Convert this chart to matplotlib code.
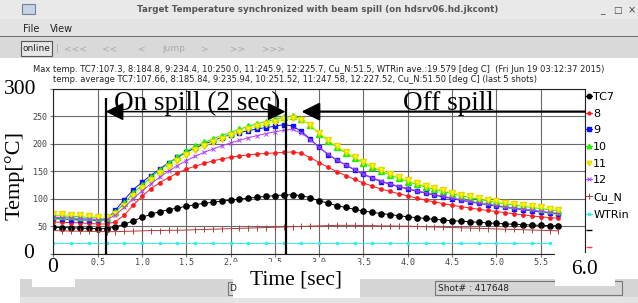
import numpy as np
import matplotlib.pyplot as plt
from matplotlib.patches import Rectangle
from matplotlib.lines import Line2D

# time of each sample [sec]
t = [0.0, 0.1, 0.2, 0.3, 0.4, 0.5, 0.6, 0.7, 0.8, 0.9,
     1.0, 1.1, 1.2, 1.3, 1.4, 1.5, 1.6, 1.7, 1.8, 1.9,
     2.0, 2.1, 2.2, 2.3, 2.4, 2.5, 2.6, 2.7, 2.8, 2.9,
     3.0, 3.1, 3.2, 3.3, 3.4, 3.5, 3.6, 3.7, 3.8, 3.9,
     4.0, 4.1, 4.2, 4.3, 4.4, 4.5, 4.6, 4.7, 4.8, 4.9,
     5.0, 5.1, 5.2, 5.3, 5.4, 5.5, 5.6, 5.7]

tc7 = [48.0, 47.5, 47.0, 46.5, 46.0, 45.5, 45.5, 48.5, 53.5, 59.5,
       66.0, 71.5, 76.5, 80.0, 83.0, 86.0, 89.0, 91.5, 93.5, 95.5,
       97.0, 99.0, 101.0, 102.5, 104.0, 105.5, 106.5, 107.3, 105.5, 101.5,
       96.0, 92.0, 87.0, 84.0, 80.5, 77.5, 75.0, 73.0, 71.0, 69.0,
       67.0, 65.5, 64.0, 62.5, 61.0, 60.0, 59.0, 58.0, 57.0, 56.0,
       55.0, 54.2, 53.5, 52.8, 52.0, 51.5, 51.0, 50.5]
tc8 = [57.5, 57.0, 56.5, 56.0, 55.0, 54.0, 54.0, 58.0, 70.0, 88.0,
       104.0, 118.0, 129.0, 138.0, 146.5, 153.5, 159.0, 164.0, 168.5, 172.0,
       175.0, 177.5, 179.5, 181.0, 182.0, 183.0, 184.0, 184.8, 182.0, 174.5,
       165.5, 157.0, 149.0, 142.0, 135.0, 128.5, 122.5, 117.5, 113.0, 109.0,
       105.0, 101.0, 97.5, 94.0, 91.0, 88.0, 85.5, 83.0, 80.5, 78.5,
       76.5, 74.5, 72.5, 70.5, 68.5, 67.0, 65.5, 64.5]
tc9 = [64.0, 63.0, 62.0, 61.5, 61.0, 60.5, 62.0, 79.0, 98.0, 116.0,
       130.0, 142.0, 154.0, 165.0, 175.0, 184.0, 192.0, 199.0, 205.0, 211.0,
       216.0, 220.0, 223.5, 226.5, 229.0, 231.5, 234.4, 232.0, 222.0, 208.0,
       193.0, 180.0, 170.0, 161.0, 152.0, 144.0, 137.0, 131.0, 126.0, 121.5,
       117.5, 113.5, 110.0, 106.5, 103.0, 100.0, 97.0, 94.0, 91.5, 89.0,
       86.5, 84.0, 82.0, 80.0, 78.0, 76.0, 74.0, 72.0]
tc10 = [69.0, 68.5, 68.0, 67.0, 66.0, 65.0, 64.0, 75.0, 92.0, 110.0,
        124.0, 139.0, 152.0, 164.0, 176.0, 186.0, 195.0, 202.0, 208.5, 214.5,
        220.0, 226.0, 231.5, 236.0, 240.0, 244.0, 247.5, 250.0, 245.0, 233.0,
        218.0, 205.0, 193.0, 183.0, 174.0, 165.0, 157.0, 150.0, 143.0, 137.0,
        131.0, 126.0, 121.0, 117.0, 113.0, 109.0, 105.5, 102.0, 99.0, 96.0,
        93.0, 90.5, 88.0, 86.0, 84.0, 82.0, 80.0, 78.0]
tc11 = [72.0, 71.5, 70.5, 69.5, 68.5, 67.5, 66.0, 72.0, 87.0, 104.0,
        119.0, 133.0, 146.0, 158.0, 169.0, 179.0, 188.0, 196.0, 203.0, 209.0,
        215.0, 221.0, 226.5, 231.5, 236.0, 240.0, 244.0, 245.9, 243.0, 234.0,
        220.0, 207.0, 195.0, 185.0, 176.0, 167.0, 159.0, 152.0, 145.0, 139.0,
        133.0, 128.0, 123.0, 119.0, 115.0, 111.0, 107.5, 104.0, 101.0, 98.0,
        95.0, 92.5, 90.0, 88.0, 86.0, 84.0, 82.0, 80.0]
tc12 = [66.0, 65.5, 65.0, 64.0, 63.0, 62.0, 62.0, 70.0, 84.0, 100.0,
        114.0, 127.0, 139.0, 150.0, 160.0, 169.0, 177.0, 184.0, 190.0, 196.0,
        201.0, 206.0, 210.5, 214.5, 218.0, 221.5, 224.0, 225.7, 219.0, 207.0,
        193.0, 181.0, 170.5, 161.5, 153.0, 145.0, 138.0, 132.0, 127.0, 122.5,
        118.5, 114.5, 111.0, 107.5, 104.5, 101.0, 98.0, 95.0, 92.5, 90.0,
        87.5, 85.0, 83.0, 81.0, 79.0, 77.0, 75.0, 73.0]
cu_n = [42.0, 41.5, 41.0, 41.0, 40.5, 40.5, 40.0, 40.0, 40.5, 41.0,
        41.5, 42.0, 42.0, 42.5, 42.5, 43.0, 43.5, 44.0, 44.5, 45.0,
        45.5, 46.0, 46.5, 47.0, 47.5, 48.0, 48.5, 49.0, 49.5, 50.0,
        50.5, 51.0, 51.5, 51.5, 51.5, 51.0, 51.0, 50.5, 50.5, 50.0,
        50.0, 49.5, 49.0, 48.5, 48.0, 47.5, 47.0, 46.5, 46.0, 45.5,
        45.0, 44.5, 44.0, 43.5, 43.0, 42.5, 42.0, 41.5]

# water temperature is logged every 0.2 sec
t_wtr = [0.0, 0.2, 0.4, 0.6, 0.8, 1.0, 1.2, 1.4, 1.6, 1.8,
         2.0, 2.2, 2.4, 2.6, 2.8, 3.0, 3.2, 3.4, 3.6, 3.8,
         4.0, 4.2, 4.4, 4.6, 4.8, 5.0, 5.2, 5.4, 5.6]
wtrin = [19.6, 19.6, 19.6, 19.6, 19.6, 19.6, 19.6, 19.6, 19.6, 19.6,
         19.6, 19.6, 19.6, 19.6, 19.6, 19.6, 19.6, 19.6, 19.6, 19.6,
         19.6, 19.6, 19.6, 19.6, 19.6, 19.6, 19.6, 19.6, 19.6]

spill_on = 0.59
spill_off = 2.62

xticks = [0.0, 0.5, 1.0, 1.5, 2.0, 2.5, 3.0, 3.5, 4.0, 4.5, 5.0, 5.5, 6.0]
xticklabels = ['', '0.5', '1.0', '1.5', '2.0', '2.5', '3.0', '3.5', '4.0', '4.5', '5.0', '5.5', '']
yticks = [0, 50, 100, 150, 200, 250, 300]
yticklabels = ['', '50', '100', '150', '200', '250', '']

title = "Target Temperature synchronized with beam spill (on hdsrv06.hd.jkcont)"
line1 = ("Max temp. TC7:107.3, 8:184.8, 9:234.4, 10:250.0, 11:245.9, 12:225.7, "
         "Cu_N:51.5, WTRin ave.:19.579 [deg C]  (Fri Jun 19 03:12:37 2015)")
line2 = ("temp. average TC7:107.66, 8:185.84, 9:235.94, 10:251.52, 11:247.58, "
         "12:227.52, Cu_N:51.50 [deg C] (last 5 shots)")

W, H = 638, 303
fx = lambda x: x / W
fy = lambda y: 1 - y / H

fig = plt.figure(figsize=(6.38, 3.03), dpi=100)
fig.patch.set_facecolor('white')


def box(x0, y0, x1, y1, fc, ec='none', lw=0.8, z=1):
    fig.add_artist(Rectangle((fx(x0), fy(y1)), fx(x1) - fx(x0), fy(y0) - fy(y1),
                             transform=fig.transFigure, fc=fc, ec=ec, lw=lw, zorder=z))


# ---- window decoration
box(0, 0, W, 19, '#e9e9e9')
box(0, 19, W, 36, '#e3e3e3')
box(0, 36, W, 37, '#6e6e6e')
box(0, 37, W, 58, '#d9d9d9')
box(21, 41, 52, 56, '#e6e6e6', ec='#555555')
box(22, 4, 35, 14, '#c8d4e4', ec='#7080a0')
fig.text(fx(318), fy(10), title, ha='center', va='center', fontsize=6.3,
         fontweight='bold', color='#555555')
fig.text(fx(602), fy(11), '_', ha='center', va='center', fontsize=6.5, color='#444444')
fig.text(fx(617), fy(10), '□', ha='center', va='center', fontsize=6.5, color='#444444')
fig.text(fx(632), fy(10), '×', ha='center', va='center', fontsize=7, color='#444444')
fig.text(fx(23), fy(29), 'File', va='center', fontsize=7, color='#222222')
fig.text(fx(50), fy(29), 'View', va='center', fontsize=7, color='#222222')
fig.text(fx(36.5), fy(48.5), 'online', ha='center', va='center', fontsize=6.5, color='#222222')
for xc, s in [(57, '|'), (75, '<<<'), (110, '<<'), (142, '<'), (174, 'jump'),
              (205, '>'), (238, '>>'), (273, '>>>')]:
    fig.text(fx(xc), fy(48.5), s, ha='center', va='center', fontsize=6.5, color='#a8a8a8')
fig.text(fx(33), fy(70), line1, va='center', fontsize=6.0, color='#222222')
fig.text(fx(53), fy(80), line2, va='center', fontsize=6.0, color='#222222')

# status bar
box(20, 279, W, 297, '#d6d6d6')
box(20, 297, W, H, '#e4e4e4')
box(228, 282, 236, 295, '#d6d6d6', ec='#777777')
box(435, 281, 622, 295, '#d6d6d6', ec='#777777')
fig.text(fx(229), fy(288.5), 'D', va='center', fontsize=6.5, color='#222222')
fig.text(fx(438), fy(288.5), 'Shot# : 417648', va='center', fontsize=6.5, color='#222222')

# ---- the plot
ax = fig.add_axes([fx(53.4), fy(253.7), fx(585) - fx(53.4), fy(88.5) - fy(253.7)])
ax.set_xlim(0, 6.0)
ax.set_ylim(0, 300)
ax.set_xticks(xticks)
ax.set_xticklabels(xticklabels, family='DejaVu Sans Mono', fontsize=6, color='#444444')
ax.set_yticks(yticks)
ax.set_yticklabels(yticklabels, family='DejaVu Sans Mono', fontsize=6, color='#444444')
ax.tick_params(length=2.5, width=0.8, color='#777777', pad=1.5)
ax.tick_params(axis='x', pad=0.5)
ax.grid(True, color='#6a6a6a', lw=0.8)
ax.set_axisbelow(True)
for sp in ax.spines.values():
    sp.set_color('#222222')
    sp.set_linewidth(0.8)

lw = 0.7
l1, = ax.plot(t, tc7, '-o', color='black', lw=lw, ms=3.8, label='TC7')
l2, = ax.plot(t, tc8, '-o', color='#ff1a1a', lw=lw, ms=2.4, label='8')
l3, = ax.plot(t, tc9, '-s', color='#1010ff', lw=lw, ms=3.4, label='9')
l4, = ax.plot(t, tc10, '-^', color='#22ee00', lw=lw, ms=3.8, label='10')
l5, = ax.plot(t, tc11, '-v', color='#ffff00', lw=lw, ms=3.8, mec='#e8d800', label='11')
l6, = ax.plot(t, tc12, '-x', color='#b040ff', lw=lw, ms=3.3, mew=0.7, label='12')
l7, = ax.plot(t, cu_n, '-|', color='#b03a3a', lw=lw, ms=5.0, mew=0.7, label='Cu_N')
l8, = ax.plot(t_wtr, wtrin, '-s', color='#30f0f0', lw=lw, ms=2.0, label='WTRin')

# spill markers
ax.vlines([spill_on, spill_off], 0, 283, color='black', lw=1.6, clip_on=False)
ax.annotate('', xy=(spill_on, 258), xytext=(spill_off, 258),
            arrowprops=dict(arrowstyle='<|-|>,head_length=1.1,head_width=0.55',
                            mutation_scale=10, color='black', lw=1.1,
                            shrinkA=0, shrinkB=0))
ax.annotate('', xy=(2.80, 258), xytext=(6.0, 258),
            arrowprops=dict(arrowstyle='-|>,head_length=1.1,head_width=0.55',
                            mutation_scale=10, color='black', lw=1.6,
                            shrinkA=0, shrinkB=0), annotation_clip=False)

serif = 'Liberation Serif'
fig.text(fx(197), fy(110), 'On spill (2 sec)', ha='center', va='baseline',
         family=serif, fontsize=19.5)
fig.text(fx(448), fy(110.5), 'Off spill', ha='center', va='baseline',
         family=serif, fontsize=19.5)

# legend
dash1 = Line2D([], [], ls='none', marker='_', color='black', ms=5)
dash2 = Line2D([], [], ls='none', marker='_', color='#ff4040', ms=5)
ax.legend([l1, l2, l3, l4, l5, l6, l7, l8, dash1, dash2],
          ['TC7', '8', '9', '10', '11', '12', 'Cu_N', 'WTRin', '', ''],
          loc='upper left', bbox_to_anchor=(fx(586), fy(92)),
          bbox_transform=fig.transFigure, frameon=False, borderpad=0,
          borderaxespad=0, handlelength=0.5, handletextpad=0.15,
          labelspacing=0.6, fontsize=8, markerscale=0.85)

# big hand-written labels pasted over the screenshot
box(32, 258, 75, 287, 'white', z=2)
box(233, 262, 360, 298, 'white', z=2)
box(555, 253, 615, 286, 'white', z=2)
fig.text(fx(20), fy(89), '300', ha='center', va='center', family=serif, fontsize=15.5, zorder=4)
fig.text(fx(29), fy(253), '0', ha='center', va='center', family=serif, fontsize=15.5, zorder=4)
fig.text(fx(53), fy(268), '0', ha='center', va='center', family=serif, fontsize=15.5, zorder=4)
fig.text(fx(585), fy(269), '6.0', ha='center', va='center', family=serif, fontsize=15.5, zorder=4)
fig.text(fx(296), fy(280), 'Time [sec]', ha='center', va='center', family=serif, fontsize=15.5, zorder=4)
fig.text(fx(15), fy(175), 'Temp[°C]', ha='center', va='center', rotation=90,
         family=serif, fontsize=16, zorder=4)

fig.savefig('out.png', dpi=100)
